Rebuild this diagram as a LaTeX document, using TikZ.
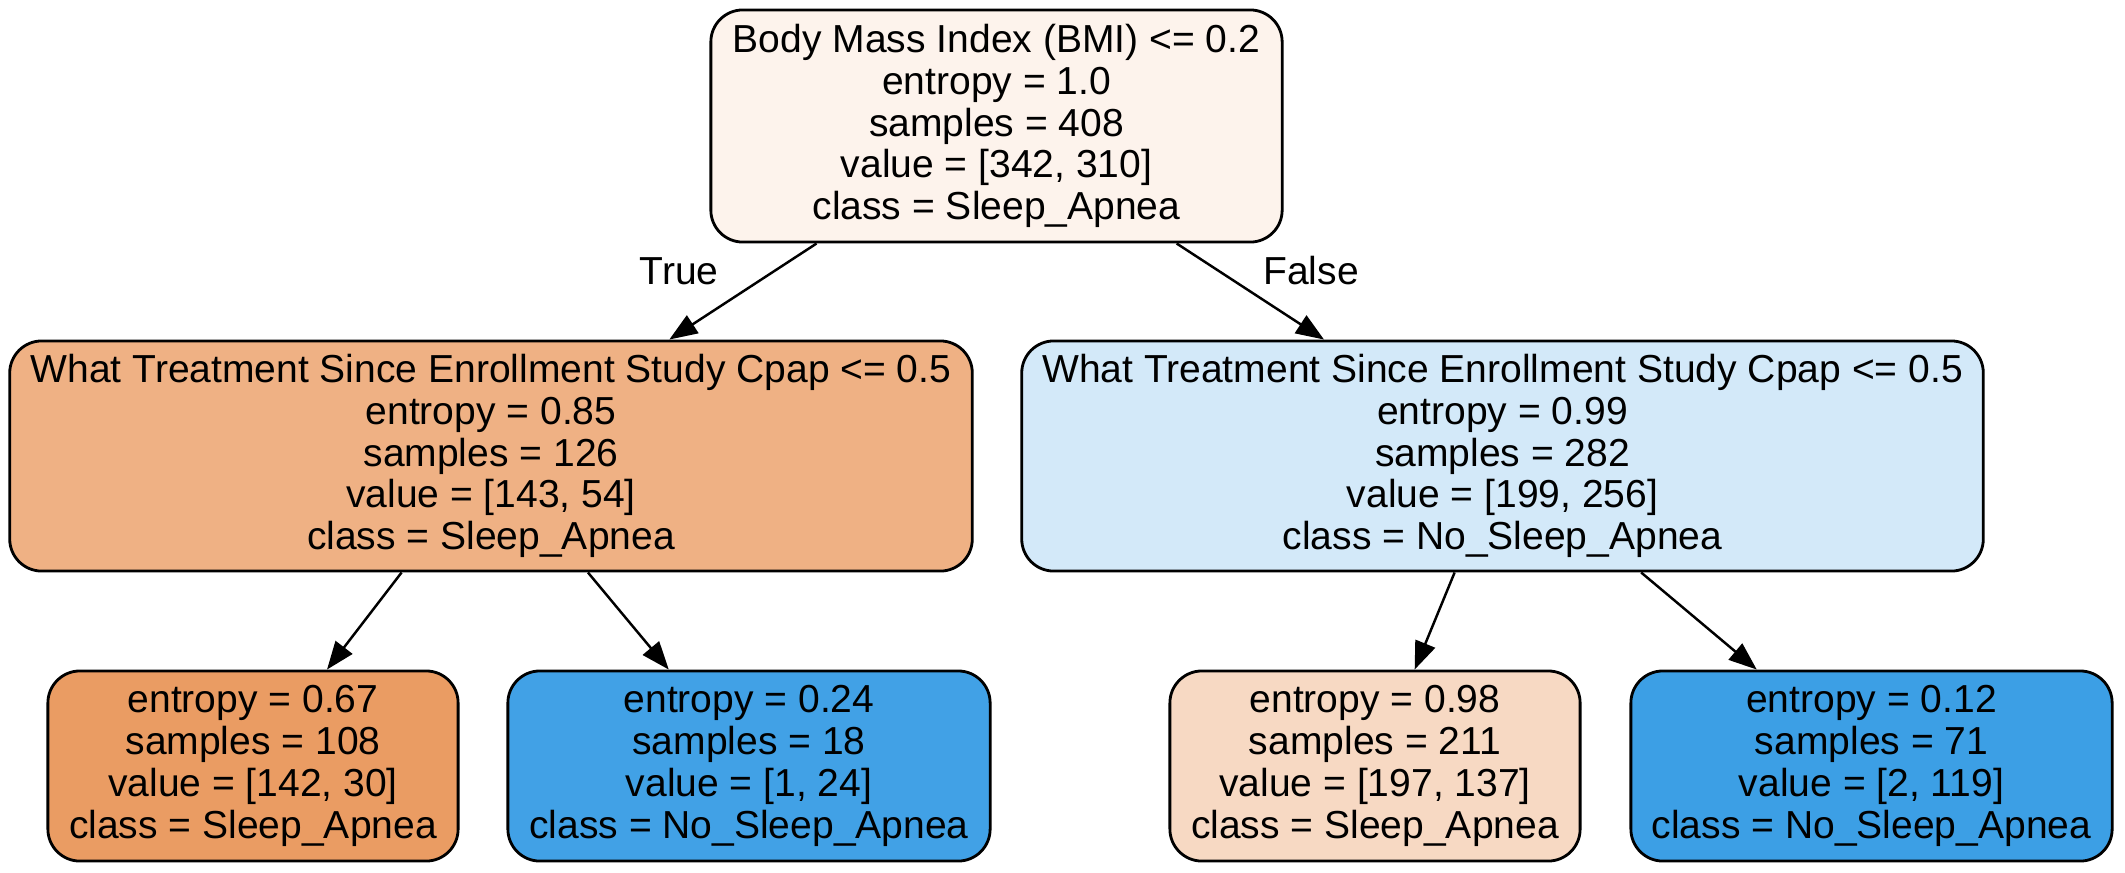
\documentclass[tikz,border=0pt]{standalone}
\usepackage{fontspec}
\setmainfont{Liberation Sans}
\usetikzlibrary{arrows.meta}
\definecolor{cRoot}{RGB}{253,243,236}
\definecolor{cLmid}{RGB}{239,177,132}
\definecolor{cRmid}{RGB}{211,233,249}
\definecolor{cBa}{RGB}{234,156,99}
\definecolor{cBb}{RGB}{65,161,230}
\definecolor{cBc}{RGB}{247,217,195}
\definecolor{cBd}{RGB}{60,159,229}
\tikzset{
  treenode/.style={draw=black, line width=0.8pt, rounded corners=0.32cm, inner sep=0pt,
    align=center, font=\fontsize{11.1pt}{11.87pt}\selectfont},
  midbox/.style={treenode, minimum height=2.30cm},
  leafbox/.style={treenode, minimum height=1.90cm},
  edgearrow/.style={draw=black, line width=0.7pt, -{Triangle[length=0.28cm,width=0.21cm]}},
  edgelabel/.style={font=\fontsize{11.1pt}{11.87pt}\selectfont, inner sep=0pt}
}
\begin{document}
\begin{tikzpicture}[x=0.01cm,y=-0.01cm]
\useasboundingbox (0,0) rectangle (2125,872);
\node[treenode, fill=cRoot, minimum width=5.71cm, minimum height=2.32cm] (root) at (996.5,126)
  {Body Mass Index (BMI) <= 0.2\\entropy = 1.0\\samples = 408\\value = [342, 310]\\class = Sleep\_Apnea};
\node[midbox, fill=cLmid, minimum width=9.62cm] (lmid) at (491,456)
  {What Treatment Since Enrollment Study Cpap <= 0.5\\entropy = 0.85\\samples = 126\\value = [143, 54]\\class = Sleep\_Apnea};
\node[midbox, fill=cRmid, minimum width=9.61cm] (rmid) at (1502.5,456)
  {What Treatment Since Enrollment Study Cpap <= 0.5\\entropy = 0.99\\samples = 282\\value = [199, 256]\\class = No\_Sleep\_Apnea};
\node[leafbox, fill=cBa, minimum width=4.10cm] (ba) at (253,766)
  {entropy = 0.67\\samples = 108\\value = [142, 30]\\class = Sleep\_Apnea};
\node[leafbox, fill=cBb, minimum width=4.82cm] (bb) at (749,766)
  {entropy = 0.24\\samples = 18\\value = [1, 24]\\class = No\_Sleep\_Apnea};
\node[leafbox, fill=cBc, minimum width=4.10cm] (bc) at (1375,766)
  {entropy = 0.98\\samples = 211\\value = [197, 137]\\class = Sleep\_Apnea};
\node[leafbox, fill=cBd, minimum width=4.81cm] (bd) at (1871.5,766)
  {entropy = 0.12\\samples = 71\\value = [2, 119]\\class = No\_Sleep\_Apnea};
\draw[edgearrow] (root) -- (lmid);
\draw[edgearrow] (root) -- (rmid);
\draw[edgearrow] (lmid) -- (ba);
\draw[edgearrow] (lmid) -- (bb);
\draw[edgearrow] (rmid) -- (bc);
\draw[edgearrow] (rmid) -- (bd);
\node[edgelabel] (ltrue) at (679,271) {True};
\node[edgelabel] (lfalse) at (1311,271) {False};
\end{tikzpicture}
\end{document}
